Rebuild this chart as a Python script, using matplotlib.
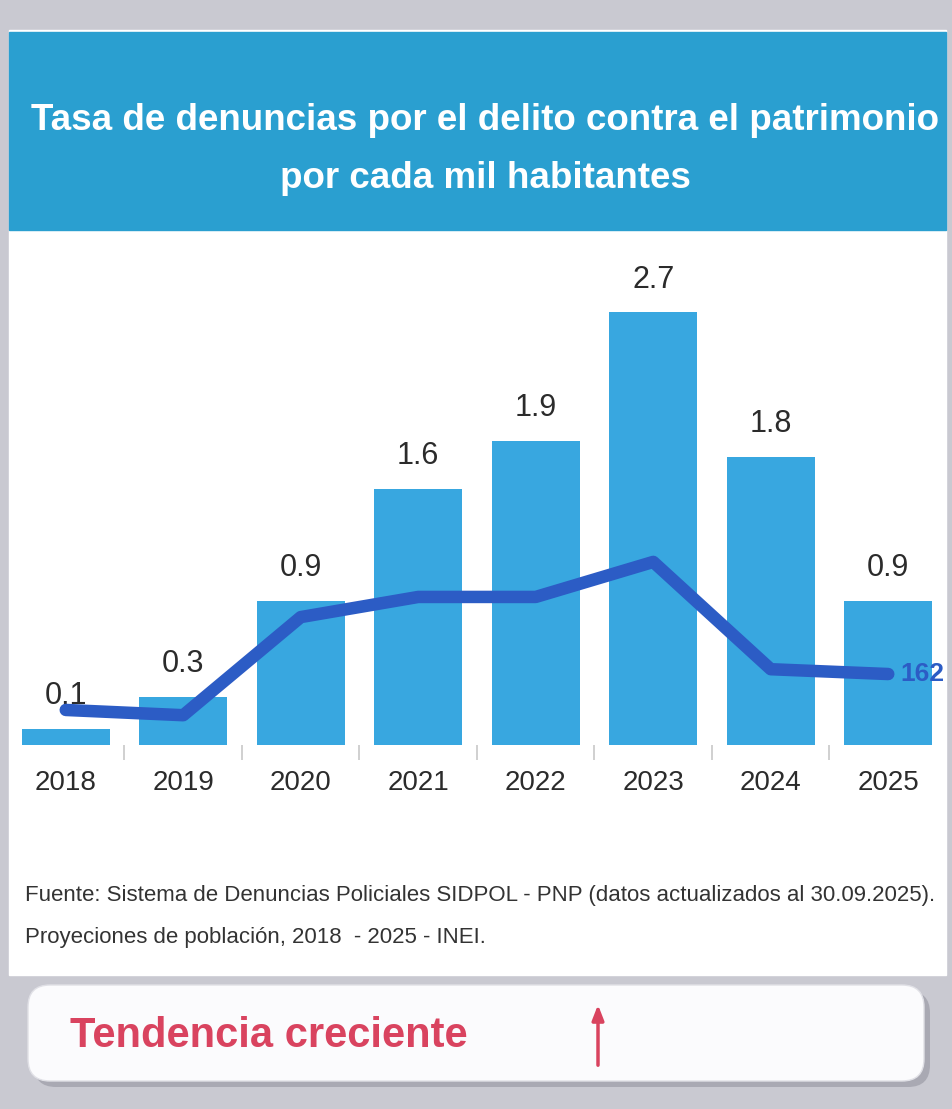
import matplotlib.pyplot as plt
from matplotlib.patches import Rectangle, FancyBboxPatch

# data
years = ['2018', '2019', '2020', '2021', '2022', '2023', '2024', '2025']
rate = [0.1, 0.3, 0.9, 1.6, 1.9, 2.7, 1.8, 0.9]
# trend line (only the last value is labelled, the rest estimated from its height)
trend = [80, 68, 292, 338, 338, 418, 173, 162]

W, H = 953, 1109
font = ['Liberation Sans', 'DejaVu Sans']

fig = plt.figure(figsize=(W / 100, H / 100), dpi=100)
fig.patch.set_facecolor('#c9c9d1')

# background layer in pixel coordinates
bg = fig.add_axes([0, 0, 1, 1])
bg.set_xlim(0, W)
bg.set_ylim(H, 0)
bg.axis('off')
bg.add_patch(Rectangle((9, 30), 937, 945, color='white', zorder=1))
bg.add_patch(Rectangle((9, 32), 937, 198, color='#2a9fd0', zorder=2))
bg.text(485, 121, 'Tasa de denuncias por el delito contra el patrimonio',
        ha='center', va='center', color='white', fontsize=26.5,
        fontweight='bold', family=font, zorder=3)
bg.text(485, 178, 'por cada mil habitantes', ha='center', va='center',
        color='white', fontsize=26.5, fontweight='bold', family=font, zorder=3)

bg.text(25, 895, 'Fuente: Sistema de Denuncias Policiales SIDPOL - PNP (datos actualizados al 30.09.2025).',
        ha='left', va='center', color='#333333', fontsize=16, family=font, zorder=3)
bg.text(25, 938, 'Proyeciones de población, 2018  - 2025 - INEI.',
        ha='left', va='center', color='#333333', fontsize=16, family=font, zorder=3)

# bottom trend box
bg.add_patch(FancyBboxPatch((34, 991), 896, 96, boxstyle='round,pad=0,rounding_size=22',
                            facecolor='#a9a9b3', edgecolor='none', zorder=2))
bg.add_patch(FancyBboxPatch((28, 985), 896, 96, boxstyle='round,pad=0,rounding_size=22',
                            facecolor='#fbfbfd', edgecolor='#e0e0e6', zorder=3))
bg.text(70, 1036, 'Tendencia creciente', ha='left', va='center', color='#d9435f',
        fontsize=30, fontweight='bold', family=font, zorder=4)
bg.annotate('', xy=(598, 1002), xytext=(598, 1068),
            arrowprops=dict(arrowstyle='-|>,head_width=0.35,head_length=0.9',
                            color='#d9435f', lw=2.5), zorder=4)

# chart
ax = fig.add_axes([7 / W, 1 - 745 / H, 940 / W, 495 / H])
ax.set_facecolor('none')
x = range(len(years))
bars = ax.bar(x, rate, width=0.75, color='#38a7e0', zorder=2)
for b, v in zip(bars, rate):
    ax.text(b.get_x() + b.get_width() / 2, v + 0.11, f'{v:.1f}', ha='center', va='bottom',
            fontsize=22, color='#2b2b2b', family=font)
ax.set_xlim(-0.5, 7.5)
ax.set_ylim(0, 3.09)
ax.set_xticks(list(x))
ax.set_xticklabels(years, fontsize=20, color='#2b2b2b', family=font)
ax.tick_params(axis='x', length=0, pad=18)
ax.set_xticks([i + 0.5 for i in range(7)], minor=True)
ax.tick_params(axis='x', which='minor', length=11, color='#c8c8c8', width=1.2)
ax.set_yticks([])
for s in ax.spines.values():
    s.set_visible(False)

ax2 = ax.twinx()
ax2.plot(x, trend, color='#2c5cc5', lw=9, solid_joinstyle='round', solid_capstyle='round', zorder=3)
ax2.set_ylim(0, 1130)
ax2.set_yticks([])
for s in ax2.spines.values():
    s.set_visible(False)
ax2.text(7.1, trend[-1], f'{trend[-1]}', ha='left', va='center', color='#2c5cc5',
         fontsize=19, fontweight='bold', family=font)

fig.savefig('out.png', dpi=100)
